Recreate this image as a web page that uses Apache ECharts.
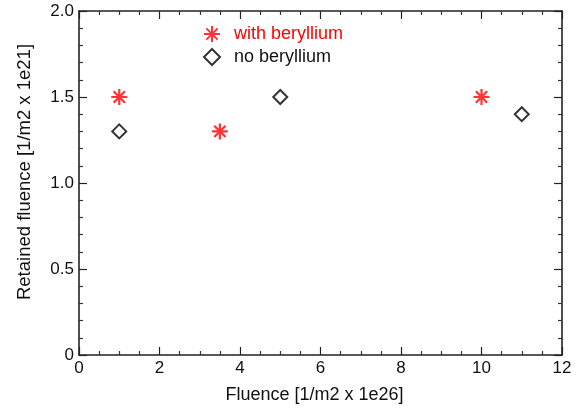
<!DOCTYPE html>
<html>
<head>
<meta charset="utf-8">
<script src="https://cdn.jsdelivr.net/npm/echarts@6/dist/echarts.min.js"></script>
<style>html,body{margin:0;padding:0;background:#fff}#c{width:576px;height:416px}</style>
</head>
<body>
<div id="c"></div>
<script>
const withBeX = [1, 3.5, 10];
const withBeY = [1.5, 1.3, 1.5];
const noBeX = [1, 5, 11];
const noBeY = [1.3, 1.5, 1.4];
const seriesNames = ['with beryllium', 'no beryllium'];
const xTitle = 'Fluence [1/m2 x 1e26]';
const yTitle = 'Retained fluence [1/m2 x 1e21]';

const FONT = '"Liberation Sans", Arial, sans-serif';
const AX = '#222';
const star = 'path://M0,-10L0,10M-10,0L10,0M-7.07,-7.07L7.07,7.07M-7.07,7.07L7.07,-7.07';

function axisBase(showLabels, split) {
  return {
    axisLine: { show: true, onZero: false, lineStyle: { color: AX, width: 1.6 } },
    axisTick: { show: true, inside: true, length: 8, lineStyle: { color: AX, width: 1.2 } },
    minorTick: { show: true, splitNumber: split, length: 4, lineStyle: { color: '#333', width: 1.2 } },
    splitLine: { show: false },
    minorSplitLine: { show: false },
    axisLabel: { show: showLabels, color: '#111', fontSize: 17, fontFamily: FONT, margin: 5 }
  };
}

const chart = echarts.init(document.getElementById('c'), null, { renderer: 'canvas' });
chart.setOption({
  animation: false,
  backgroundColor: '#fff',
  grid: { left: 79, right: 14, top: 11, bottom: 61, containLabel: false },
  legend: {
    left: 203, top: 25, orient: 'vertical', itemGap: 5, padding: 0,
    itemWidth: 16, itemHeight: 16,
    textStyle: { fontFamily: FONT, fontSize: 18, color: '#111', padding: [0, 0, 0, 9] },
    data: [
      { name: seriesNames[0], textStyle: { color: '#ff0000' } },
      { name: seriesNames[1], textStyle: { color: '#111' } }
    ]
  },
  xAxis: [
    Object.assign(axisBase(true, 4), {
      type: 'value', min: 0, max: 12, interval: 2, position: 'bottom',
      name: xTitle, nameLocation: 'middle', nameGap: 31,
      nameTextStyle: { fontFamily: FONT, fontSize: 18, color: '#111', padding: [0, 12, 0, 0] }
    }),
    Object.assign(axisBase(false, 4), {
      type: 'value', min: 0, max: 12, interval: 2, position: 'top'
    })
  ],
  yAxis: [
    Object.assign(axisBase(true, 5), {
      type: 'value', min: 0, max: 2, interval: 0.5, position: 'left',
      name: yTitle, nameLocation: 'middle', nameGap: 45,
      nameTextStyle: { fontFamily: FONT, fontSize: 18.5, color: '#111', padding: [0, 0, 0, 22] }
    }),
    Object.assign(axisBase(false, 5), {
      type: 'value', min: 0, max: 2, interval: 0.5, position: 'right'
    })
  ],
  series: [
    {
      name: seriesNames[0], type: 'scatter', xAxisIndex: 0, yAxisIndex: 0,
      data: withBeX.map((x, i) => [x, withBeY[i]]),
      symbol: star, symbolSize: 16,
      itemStyle: { color: '#ff0000', borderColor: '#ff0000', borderWidth: 2.2 }
    },
    {
      name: seriesNames[1], type: 'scatter', xAxisIndex: 0, yAxisIndex: 0,
      data: noBeX.map((x, i) => [x, noBeY[i]]),
      symbol: 'emptyDiamond', symbolSize: 14,
      itemStyle: { color: '#000', borderColor: '#000', borderWidth: 2.4 }
    }
  ]
});
chart.setOption({
  yAxis: [{ axisLabel: { formatter: v => v === 0 ? '0' : v.toFixed(1) } }, {}]
});
</script>
</body>
</html>
